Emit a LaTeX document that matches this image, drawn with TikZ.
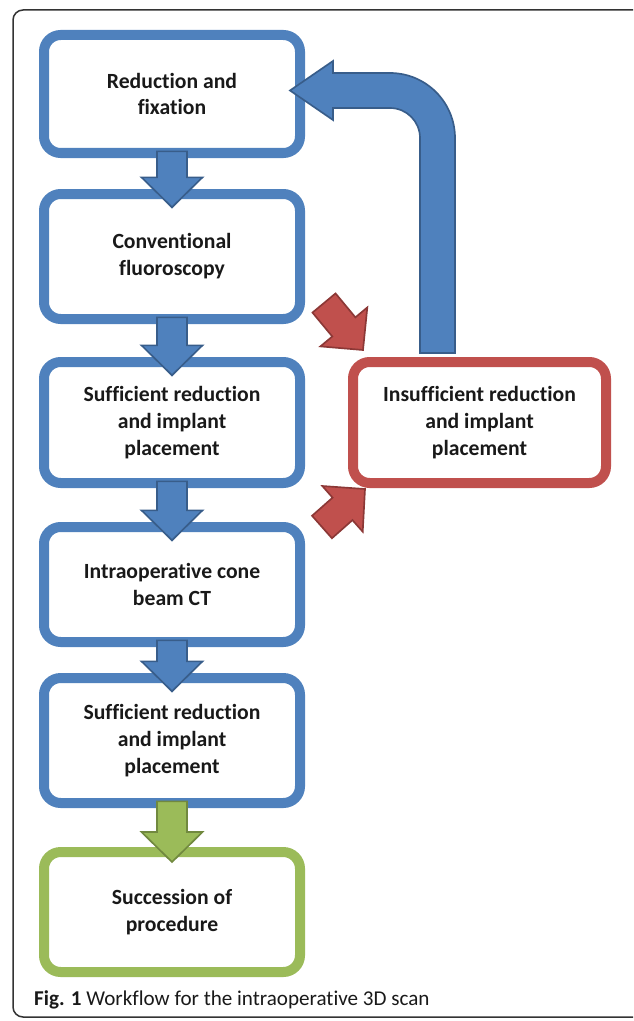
\documentclass[tikz,border=0pt]{standalone}
\usepackage{fontspec}
\setmainfont{Carlito}[Ligatures={NoCommon}]
\usepackage{xcolor}
\usepackage{tikz}
\usetikzlibrary{calc}
\definecolor{officeblue}{RGB}{79,129,189}
\definecolor{darkblue}{RGB}{56,93,138}
\definecolor{officered}{RGB}{192,80,77}
\definecolor{darkred}{RGB}{140,56,54}
\definecolor{officegreen}{RGB}{155,187,89}
\definecolor{darkgreen}{RGB}{113,137,63}

% block arrow: style, tail, tip
\newcommand{\blockarrow}[3]{%
\coordinate (ah) at ($(#3)!0.9cm!(#2)$);
\filldraw[#1] ($(#2)!0.45cm!90:(#3)$) -- ($(ah)!0.45cm!-90:(#2)$) -- ($(ah)!0.915cm!-90:(#2)$) -- (#3) -- ($(ah)!0.915cm!90:(#2)$) -- ($(ah)!0.45cm!90:(#2)$) -- ($(#2)!0.45cm!-90:(#3)$) -- cycle;}

\begin{document}
\begin{tikzpicture}[node distance=4.9cm,
  flowbox/.style={draw=officeblue, fill=white, line width=0.3cm, rectangle, rounded corners=0.5cm, minimum width=7.68cm, align=center, text=black!90, font=\fontsize{18.5}{23}\selectfont\bfseries},
  bluearrow/.style={fill=officeblue, draw=darkblue, line width=0.05cm, line join=miter},
  redarrow/.style={fill=officered, draw=darkred, line width=0.05cm, line join=miter},
  greenarrow/.style={fill=officegreen, draw=darkgreen, line width=0.05cm, line join=miter}]
\useasboundingbox (0,0) rectangle (18.99,-30.63);
\clip (0,0) rectangle (18.99,-30.63);
\draw[black!80, line width=0.045cm, rounded corners=0.3cm] (0.39,-0.3) rectangle (19.6,-30.51);

\node (b1) [flowbox, minimum height=3.54cm] at (5.16,-2.82) {Reduction and\\fixation};
\node (b2) [flowbox, minimum height=3.75cm, below of=b1, node distance=4.875cm] {Conventional\\fluoroscopy};
\node (b3) [flowbox, minimum height=3.63cm, below of=b2, node distance=4.98cm] {Sufficient reduction\\and implant\\placement};
\node (b4) [flowbox, minimum height=3.45cm, below of=b3, node distance=4.86cm] {Intraoperative cone\\beam CT};
\node (b5) [flowbox, minimum height=3.75cm, below of=b4, node distance=4.68cm] {Sufficient reduction\\and implant\\placement};
\node (b6) [flowbox, draw=officegreen, minimum height=3.6cm, below of=b5, node distance=5.145cm] {Succession of\\procedure};
\node (red) [flowbox, draw=officered, minimum width=7.59cm, minimum height=3.63cm, right of=b3, node distance=9.225cm] {Insufficient reduction\\and implant\\placement};

% down arrows
\coordinate (t12) at ($(b1.south)+(0,0.2)$); \coordinate (h12) at ($(b2.north)+(0,-0.55)$);
\coordinate (t23) at ($(b2.south)+(0,0.2)$); \coordinate (h23) at ($(b3.north)+(0,-0.55)$);
\coordinate (t34) at ($(b3.south)+(0,0.2)$); \coordinate (h34) at ($(b4.north)+(0,-0.55)$);
\coordinate (t45) at ($(b4.south)+(0,0.2)$); \coordinate (h45) at ($(b5.north)+(0,-0.55)$);
\coordinate (t56) at ($(b5.south)+(0,0.2)$); \coordinate (h56) at ($(b6.north)+(0,-0.45)$);
\blockarrow{bluearrow}{t12}{h12}
\blockarrow{bluearrow}{t23}{h23}
\blockarrow{bluearrow}{t34}{h34}
\blockarrow{bluearrow}{t45}{h45}
\blockarrow{greenarrow}{t56}{h56}

% red arrows into the insufficient box
\coordinate (rt1) at ($(red.west)+(-0.72,3.585)$); \coordinate (rh1) at ($(red.west)+(0.45,2.175)$);
\coordinate (rt2) at ($(red.west)+(-0.78,-3.135)$); \coordinate (rh2) at ($(red.west)+(0.51,-1.995)$);
\blockarrow{redarrow}{rt1}{rh1}
\blockarrow{redarrow}{rt2}{rh2}

% bent arrow back to the top
\coordinate (fb) at ($(red.north)+(-1.26,0.12)$);
\coordinate (ft) at ($(b1.east)+(-0.45,0.105)$);
\filldraw[bluearrow] let \p1=(fb), \p2=(ft) in
  (\x1-0.525cm,\y1) -- (\x1-0.525cm,\y2-1.425cm) arc[start angle=0, end angle=90, radius=0.9cm]
  -- (\x2+1.29cm,\y2-0.525cm) -- (\x2+1.29cm,\y2-0.885cm) -- (ft) -- (\x2+1.29cm,\y2+0.885cm)
  -- (\x2+1.29cm,\y2+0.525cm) -- (\x1-1.425cm,\y2+0.525cm) arc[start angle=90, end angle=0, radius=1.95cm]
  -- (\x1+0.525cm,\y1) -- cycle;

\node (caption) [anchor=west, text=black!90, font=\fontsize{18}{20}\selectfont] at (0.9,-30.0) {\textbf{Fig. 1} Workflow for the intraoperative 3D scan};
\end{tikzpicture}
\end{document}
